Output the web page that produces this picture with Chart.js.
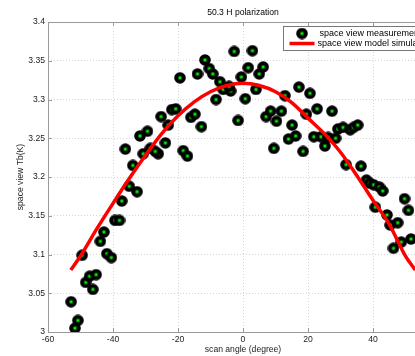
<!DOCTYPE html>
<html>
<head>
<meta charset="utf-8">
<script src="https://cdn.jsdelivr.net/npm/chart.js@4.4.0/dist/chart.umd.min.js"></script>
<style>
  html, body { margin: 0; padding: 0; background: #fff; overflow: hidden; }
  #wrap { width: 415px; height: 356px; overflow: hidden; }
</style>
</head>
<body>
<div id="wrap"><canvas id="grafico" width="445" height="356"></canvas></div>
<script>
// dados
const scanAngle = [
  -52.9, -50.8, -51.7, -49.5, -48.4, -47.2, -45.2, -46.2, -42.8, -43.9,
  -41.9, -40.5, -39.4, -38.0, -37.3, -35.0, -32.6, -33.9, -36.2, -30.7,
  -28.5, -26.1, -27.0, -23.9, -31.7, -29.4, -25.2, -23.0, -21.9, -20.7,
  -19.4, -18.4, -17.1, -16.0, -14.8, -12.8, -14.0, -11.7, -10.4, -9.3,
  -7.1, -6.1, -3.8, -4.3, -8.3, -2.7, 2.9, -0.5, 1.6, 0.7,
  -1.5, 4.0, 5.0, 6.2, 7.1, 8.5, 11.8, 10.3, 12.9, 9.5,
  15.1, 14.0, 16.2, 17.2, 20.6, 19.5, 22.8, 27.4, 18.5, 21.8,
  24.0, 25.2, 26.2, 28.5, 29.2, 30.8, 33.0, 34.0, 35.3, 31.7,
  36.3, 38.0, 39.0, 40.2, 42.0, 43.0, 40.7, 44.3, 45.3, 47.6,
  49.7, 50.9, 48.7, 46.3, 51.7
];
const tbMeasured = [
  3.039, 3.015, 3.005, 3.099, 3.064, 3.072, 3.074, 3.055, 3.129, 3.117,
  3.101, 3.096, 3.144, 3.144, 3.169, 3.188, 3.181, 3.215, 3.236, 3.230,
  3.237, 3.230, 3.233, 3.244, 3.253, 3.259, 3.278, 3.267, 3.287, 3.288,
  3.328, 3.234, 3.227, 3.277, 3.281, 3.265, 3.333, 3.351, 3.340, 3.333,
  3.323, 3.313, 3.311, 3.317, 3.300, 3.362, 3.363, 3.329, 3.341, 3.301,
  3.273, 3.313, 3.333, 3.342, 3.278, 3.285, 3.285, 3.272, 3.305, 3.237,
  3.267, 3.249, 3.253, 3.316, 3.308, 3.281, 3.288, 3.285, 3.233, 3.252,
  3.252, 3.240, 3.251, 3.250, 3.262, 3.264, 3.261, 3.264, 3.267, 3.216,
  3.214, 3.196, 3.192, 3.190, 3.187, 3.182, 3.161, 3.151, 3.138, 3.141,
  3.172, 3.157, 3.116, 3.108, 3.120
];
const modelAngle = [-53, -50, -45, -40, -35, -30, -25, -20, -15, -10, -5, 0,
  5, 10, 15, 20, 25, 30, 35, 40, 45, 50, 53];
const tbModel = [3.080, 3.098, 3.133, 3.166, 3.198, 3.228, 3.256, 3.279, 3.297, 3.310, 3.318, 3.321,
  3.318, 3.310, 3.296, 3.276, 3.256, 3.232, 3.202, 3.170, 3.139, 3.098, 3.080];
const xTicks = [-60, -40, -20, 0, 20, 40, 60];
const yTicks = [3, 3.05, 3.1, 3.15, 3.2, 3.25, 3.3, 3.35, 3.4];
const yTickLabels = ['3', '3.05', '3.1', '3.15', '3.2', '3.25', '3.3', '3.35', '3.4'];
const legendLabels = ['space view measurement', 'space view model simulation'];

const fonte = 'Liberation Sans, Arial, sans-serif';
const tam = 8.6;

// marcador: circulo preto com quadrado verde
const marca = document.createElement('canvas');
marca.width = 12; marca.height = 12;
const mc = marca.getContext('2d');
mc.fillStyle = '#000';
mc.beginPath(); mc.arc(6, 6, 5.8, 0, Math.PI * 2); mc.fill();
mc.fillStyle = '#00ee00';
mc.fillRect(4.5, 4.5, 3, 3);

// moldura, ticks internos e legenda
const moldura = {
  id: 'moldura',
  afterDraw(chart) {
    const {ctx, chartArea: a, scales: {x, y}} = chart;
    ctx.save();
    ctx.strokeStyle = '#9a9a9a';
    ctx.lineWidth = 1;
    ctx.strokeRect(a.left + 0.5, a.top + 0.5, a.right - a.left, a.bottom - a.top);
    ctx.beginPath();
    xTicks.forEach(v => {
      const px = Math.round(x.getPixelForValue(v)) + 0.5;
      ctx.moveTo(px, a.bottom); ctx.lineTo(px, a.bottom - 4);
      ctx.moveTo(px, a.top); ctx.lineTo(px, a.top + 4);
    });
    yTicks.forEach(v => {
      const py = Math.round(y.getPixelForValue(v)) + 0.5;
      ctx.moveTo(a.left, py); ctx.lineTo(a.left + 4, py);
      ctx.moveTo(a.right, py); ctx.lineTo(a.right - 4, py);
    });
    ctx.stroke();

    // legenda
    const bx = Math.round(a.right) - 155 + 0.5, by = Math.round(a.top) + 4 + 0.5;
    ctx.fillStyle = '#fff';
    ctx.fillRect(bx, by, 152, 24);
    ctx.strokeStyle = '#777';
    ctx.strokeRect(bx, by, 152, 24);
    ctx.drawImage(marca, bx + 12.5, by + 1);
    ctx.strokeStyle = '#ff0000';
    ctx.lineWidth = 3.5;
    ctx.beginPath(); ctx.moveTo(bx + 6, by + 17); ctx.lineTo(bx + 31, by + 17); ctx.stroke();
    ctx.fillStyle = '#000';
    ctx.font = '9px ' + fonte;
    ctx.textBaseline = 'middle';
    ctx.fillText(legendLabels[0], bx + 36, by + 7);
    ctx.fillText(legendLabels[1], bx + 34, by + 17);
    ctx.restore();
  }
};

const config = {
  type: 'scatter',
  data: {
    datasets: [
      {
        label: legendLabels[1],
        data: modelAngle.map((a, i) => ({x: a, y: tbModel[i]})),
        showLine: true,
        borderColor: '#ff0000',
        borderWidth: 3.5,
        pointRadius: 0,
        cubicInterpolationMode: 'monotone',
        order: 0
      },
      {
        label: legendLabels[0],
        data: scanAngle.map((a, i) => ({x: a, y: tbMeasured[i]})),
        pointStyle: marca,
        pointRadius: 6,
        order: 1
      }
    ]
  },
  options: {
    responsive: false,
    animation: false,
    events: [],
    layout: { padding: 0 },
    plugins: {
      legend: { display: false },
      tooltip: { enabled: false },
      title: {
        display: true,
        text: '50.3 H polarization',
        fullSize: false,
        color: '#000',
        font: { family: fonte, size: tam, weight: 'normal' },
        padding: { top: 7, bottom: 4.7 }
      }
    },
    scales: {
      x: {
        type: 'linear',
        min: -60, max: 60,
        afterBuildTicks: s => { s.ticks = xTicks.map(v => ({value: v})); },
        afterFit: s => { s.height = 24; },
        ticks: { color: '#222', padding: 2, font: { family: fonte, size: tam }, callback: v => String(v) },
        grid: { color: '#d6d6d6', drawTicks: false },
        border: { display: false, dash: [1, 2] },
        title: { display: true, text: 'scan angle (degree)', color: '#222', font: { family: fonte, size: tam }, padding: { top: 0, bottom: 1 } }
      },
      y: {
        type: 'linear',
        min: 3, max: 3.4,
        afterBuildTicks: s => { s.ticks = yTicks.map(v => ({value: v})); },
        afterFit: s => { s.width = 48; },
        ticks: { color: '#222', padding: 3, font: { family: fonte, size: tam }, callback: (v, i) => yTickLabels[i] },
        grid: { color: '#d6d6d6', drawTicks: false },
        border: { display: false, dash: [1, 2] },
        title: { display: true, text: 'space view Tb(K)', color: '#222', font: { family: fonte, size: tam }, padding: { top: 15, bottom: 0 } }
      }
    }
  },
  plugins: [moldura]
};

var meuGrafico = new Chart(document.getElementById('grafico'), config);
</script>
</body>
</html>
